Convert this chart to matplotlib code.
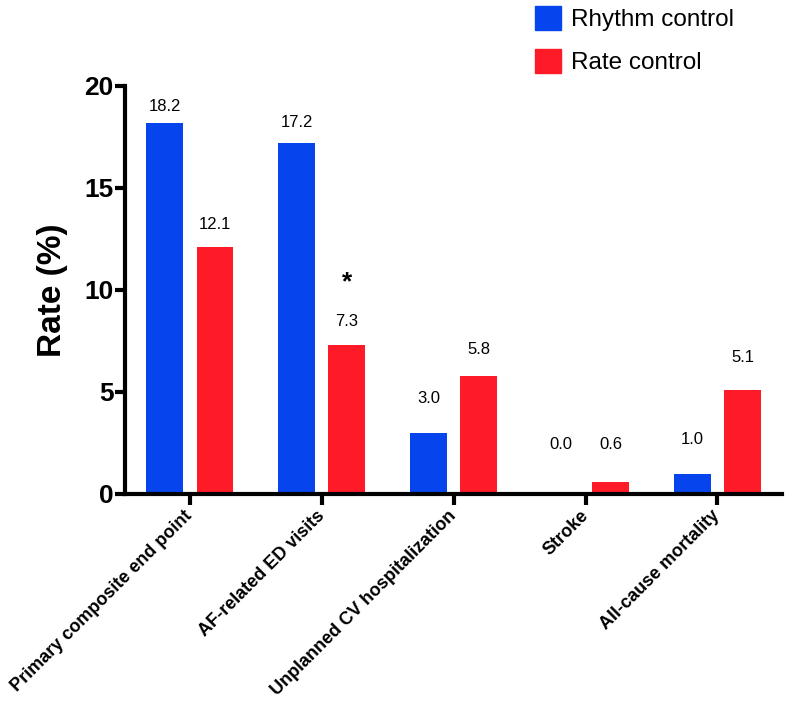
import numpy as np
import matplotlib.pyplot as plt
from matplotlib.patches import Patch

categories = ['Primary composite end point', 'AF-related ED visits',
              'Unplanned CV hospitalization', 'Stroke', 'All-cause mortality']
rhythm = [18.2, 17.2, 3.0, 0.0, 1.0]
rate = [12.1, 7.3, 5.8, 0.6, 5.1]
# where the value labels sit (data units), hand-placed in the original
rhythm_label_y = [19.0, 18.2, 4.7, 2.45, 2.65]
rate_label_y = [13.2, 8.45, 7.1, 2.45, 6.7]
yticks = [0, 5, 10, 15, 20]

plt.rcParams['font.family'] = ['Liberation Sans', 'DejaVu Sans']

blue = '#0644EE'
red = '#FF1A28'

fig = plt.figure(figsize=(7.91, 7.03), dpi=100)
ax = fig.add_axes([0.158, 0.2973, 0.8306, 0.5804])

x = np.arange(len(categories))
off = 0.19
w = 0.28
ax.bar(x - off, rhythm, w, color=blue, label='Rhythm control')
ax.bar(x + off, rate, w, color=red, label='Rate control')

for i in range(len(categories)):
    ax.text(x[i] - off, rhythm_label_y[i], f'{rhythm[i]:.1f}', ha='center', va='center', fontsize=12)
    ax.text(x[i] + off, rate_label_y[i], f'{rate[i]:.1f}', ha='center', va='center', fontsize=12)

# significance marker on AF-related ED visits
ax.text(x[1] + off, 10.4, '*', ha='center', va='center', fontsize=19, fontweight='bold')

ax.set_xlim(-0.493, 4.49)
ax.set_ylim(0, 20)
ax.set_yticks(yticks)
ax.set_yticklabels([str(t) for t in yticks], fontsize=19, fontweight='bold')
ax.set_xticks(x)
ax.set_xticklabels(categories, rotation=45, ha='right', va='center', rotation_mode='anchor',
                   fontsize=13, fontweight='bold')

for s in ['top', 'right']:
    ax.spines[s].set_visible(False)
for s in ['left', 'bottom']:
    ax.spines[s].set_linewidth(3)
ax.tick_params(axis='y', length=7, width=3, pad=1)
ax.tick_params(axis='x', length=8, width=3, pad=6)

ax.set_ylabel('Rate (%)', fontsize=24, fontweight='bold', labelpad=12)

fig.legend(handles=[Patch(color=blue, label='Rhythm control'),
                    Patch(color=red, label='Rate control')],
           loc='upper left', bbox_to_anchor=(0.676, 0.991), frameon=False,
           fontsize=17.5, handlelength=1.1, handleheight=1.1, handletextpad=0.4,
           labelspacing=0.75, borderpad=0, borderaxespad=0)

fig.savefig('out.png', dpi=100)
